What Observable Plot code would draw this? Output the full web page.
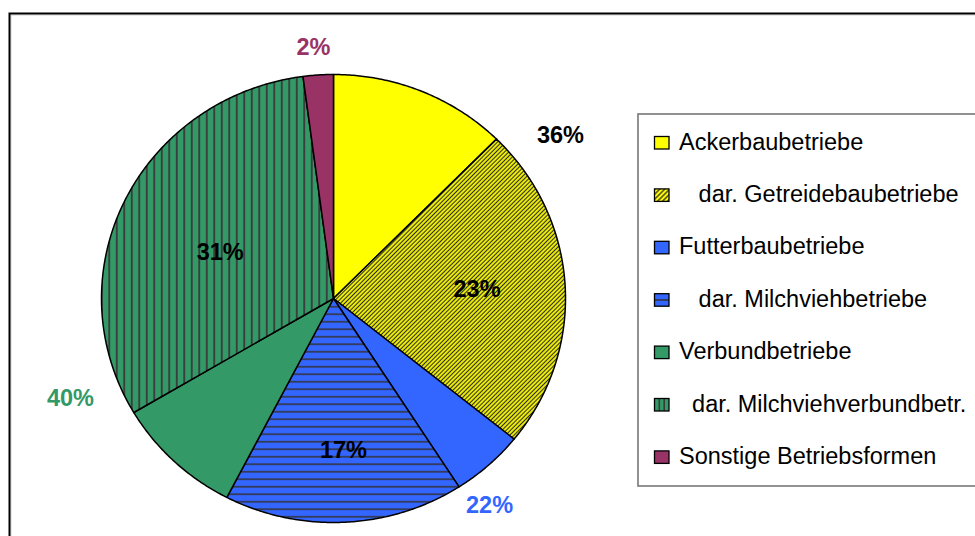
<!DOCTYPE html>
<html><head><meta charset="utf-8">
<script src="https://cdn.jsdelivr.net/npm/d3@7"></script>
<script src="https://cdn.jsdelivr.net/npm/@observablehq/plot@0.6"></script>
<style>
html,body{margin:0;padding:0;background:#fff;}
#wrap{position:relative;width:975px;height:536px;overflow:hidden;font-family:"Liberation Sans",Arial,sans-serif;}
#wrap svg{position:absolute;left:0;top:0;}
</style></head><body><div id="wrap"></div>
<script>
// ---- data (shares; labels show rounded values) ----
const groups = ["Ackerbaubetriebe", "Futterbaubetriebe", "Verbundbetriebe", "Sonstige Betriebsformen"];
const groupPercent = [35.8, 21.8, 40.3, 2.1];
const subgroups = ["dar. Getreidebaubetriebe", "dar. Milchviehbetriebe", "dar. Milchviehverbundbetr.", null];
const subPercent = [23.4, 16.7, 31.4, 0];
const legendLabels = ["Ackerbaubetriebe", "   dar. Getreidebaubetriebe", "Futterbaubetriebe", "   dar. Milchviehbetriebe", "Verbundbetriebe", "  dar. Milchviehverbundbetr.", "Sonstige Betriebsformen"];

// ---- styles ----
const groupColors = ["#FFFF00", "#3366FF", "#339966", "#993366"];
const subFills = ["url(#pat-diag)", "url(#pat-horiz)", "url(#pat-vert)", null];
const groupLabelColors = ["#000000", "#3366FF", "#339966", "#993366"];
// label placement (angle in degrees clockwise from top, radius relative to pie radius)
const groupLabelPlace = [[53.3, 1.22], [144, 1.144], [248.6, 1.218], [355.6, 1.125]];
const subLabelPlace = [[86.2, 0.62], [176.4, 0.68], [292.8, 0.53]];

// ---- build slices ----
const slices = [];
let acc = 0;
groups.forEach((g, i) => {
  const rest = groupPercent[i] - subPercent[i];
  if (rest > 0) { slices.push({key: g, start: acc, end: acc + rest, fill: groupColors[i]}); acc += rest; }
  if (subPercent[i] > 0) { slices.push({key: subgroups[i], start: acc, end: acc + subPercent[i], fill: subFills[i]}); acc += subPercent[i]; }
});
const total = acc;
const pts = [];
for (const s of slices) {
  const a0 = s.start / total * 2 * Math.PI, a1 = s.end / total * 2 * Math.PI;
  const n = Math.max(2, Math.ceil((a1 - a0) / (Math.PI / 360)));
  pts.push({key: s.key, fill: s.fill, x: 0, y: 0});
  for (let k = 0; k <= n; k++) {
    const a = a0 + (a1 - a0) * k / n;
    pts.push({key: s.key, fill: s.fill, x: Math.sin(a), y: Math.cos(a)});
  }
  pts.push({key: s.key, fill: s.fill, x: 0, y: 0});
}
const rad = d => d * Math.PI / 180;
const labels = [];
groups.forEach((g, i) => {
  const [ang, r] = groupLabelPlace[i];
  labels.push({text: Math.round(groupPercent[i]) + "%", x: r * Math.sin(rad(ang)), y: r * Math.cos(rad(ang)), fill: groupLabelColors[i]});
  if (subPercent[i] > 0) {
    const [a2, r2] = subLabelPlace[i];
    labels.push({text: Math.round(subPercent[i]) + "%", x: r2 * Math.sin(rad(a2)), y: r2 * Math.cos(rad(a2)), fill: "#000000"});
  }
});

const cx = 333, cy = 298, rx = 232, ry = 224;
const plot = Plot.plot({
  width: 975, height: 536, margin: 0,
  style: {background: "transparent", fontFamily: "Liberation Sans, Arial, sans-serif"},
  x: {domain: [-1, 1], range: [cx - rx, cx + rx], axis: null},
  y: {domain: [-1, 1], range: [cy + ry, cy - ry], axis: null},
  color: {type: "identity"},
  marks: [
    Plot.line(pts, {x: "x", y: "y", z: "key", fill: "fill", stroke: "#000", strokeWidth: 1.5, strokeLinejoin: "round", curve: "linear"}),
    Plot.text(labels, {x: "x", y: "y", text: "text", fill: "fill", fontSize: 23.5, fontWeight: "bold"})
  ]
});

// patterns
const defs = d3.create("svg:defs");
const pd = defs.append("pattern").attr("id", "pat-diag").attr("patternUnits", "userSpaceOnUse")
  .attr("width", 3).attr("height", 3).attr("patternTransform", "rotate(-45)");
pd.append("rect").attr("x", -1).attr("y", -1).attr("width", 5).attr("height", 5).attr("fill", "#FFFF00");
pd.append("line").attr("x1", -1).attr("x2", 4).attr("y1", 1.5).attr("y2", 1.5).attr("stroke", "#2e2e2e").attr("stroke-width", 1.2);
const ph = defs.append("pattern").attr("id", "pat-horiz").attr("patternUnits", "userSpaceOnUse")
  .attr("width", 10).attr("height", 7.5).attr("y", 2.5);
ph.append("rect").attr("width", 10).attr("height", 7.5).attr("fill", "#3366FF");
ph.append("line").attr("x1", 0).attr("x2", 10).attr("y1", 3.75).attr("y2", 3.75).attr("stroke", "#333a55").attr("stroke-width", 1.8);
const pv = defs.append("pattern").attr("id", "pat-vert").attr("patternUnits", "userSpaceOnUse")
  .attr("width", 7.5).attr("height", 10);
pv.append("rect").attr("width", 7.5).attr("height", 10).attr("fill", "#339966");
pv.append("line").attr("y1", 0).attr("y2", 10).attr("x1", 3.75).attr("x2", 3.75).attr("stroke", "#3a3a3a").attr("stroke-width", 1.8);
const pl = defs.append("pattern").attr("id", "pat-diag-lg").attr("patternUnits", "userSpaceOnUse")
  .attr("width", 3.5).attr("height", 3.5).attr("patternTransform", "rotate(-45)");
pl.append("rect").attr("x", -1).attr("y", -1).attr("width", 6).attr("height", 6).attr("fill", "#FFFF00");
pl.append("line").attr("x1", -1).attr("x2", 5).attr("y1", 1.75).attr("y2", 1.75).attr("stroke", "#2e2e2e").attr("stroke-width", 1.3);
plot.insertBefore(defs.node(), plot.firstChild);

const wrap = document.getElementById("wrap");
wrap.appendChild(plot);

// overlay: frame + legend
const ov = d3.create("svg").attr("width", 975).attr("height", 536).attr("viewBox", "0 0 975 536")
  .style("font-family", "Liberation Sans, Arial, sans-serif");
ov.append("rect").attr("x", 11).attr("y", 15).attr("width", 1000).attr("height", 600).attr("fill", "none").attr("stroke", "#d0d0d0").attr("stroke-width", 1);
ov.append("rect").attr("x", 9.5).attr("y", 13.5).attr("width", 1000).attr("height", 600).attr("fill", "none").attr("stroke", "#000").attr("stroke-width", 2);
ov.append("rect").attr("x", 638).attr("y", 114).attr("width", 400).attr("height", 372).attr("fill", "#fff").attr("stroke", "#777").attr("stroke-width", 1.6);
const baselines0 = 149.5, step = 52.4;
const swFills = ["#FFFF00", "url(#pat-diag-lg)", "#3366FF", "#3366FF", "#339966", "#339966", "#993366"];
legendLabels.forEach((lab, i) => {
  const b = baselines0 + i * step;
  const g = ov.append("g");
  g.append("rect").attr("x", 654.5).attr("y", b - 13).attr("width", 14.5).attr("height", 12.5).attr("fill", swFills[i]);
  if (i === 3) g.append("line").attr("x1", 654.5).attr("x2", 669).attr("y1", b - 6.75).attr("y2", b - 6.75).attr("stroke", "#333a55").attr("stroke-width", 1.8);
  if (i === 5) [659.3, 664.2].forEach(x => g.append("line").attr("x1", x).attr("x2", x).attr("y1", b - 13).attr("y2", b - 0.5).attr("stroke", "#3a3a3a").attr("stroke-width", 1.6));
  g.append("rect").attr("x", 654.5).attr("y", b - 13).attr("width", 14.5).attr("height", 12.5).attr("fill", "none").attr("stroke", "#000").attr("stroke-width", 1.3);
  g.append("text").attr("x", 679).attr("y", b).attr("font-size", 23.5).attr("fill", "#000").attr("xml:space", "preserve").style("white-space", "pre").text(lab);
});
wrap.appendChild(ov.node());
</script>
</body></html>
